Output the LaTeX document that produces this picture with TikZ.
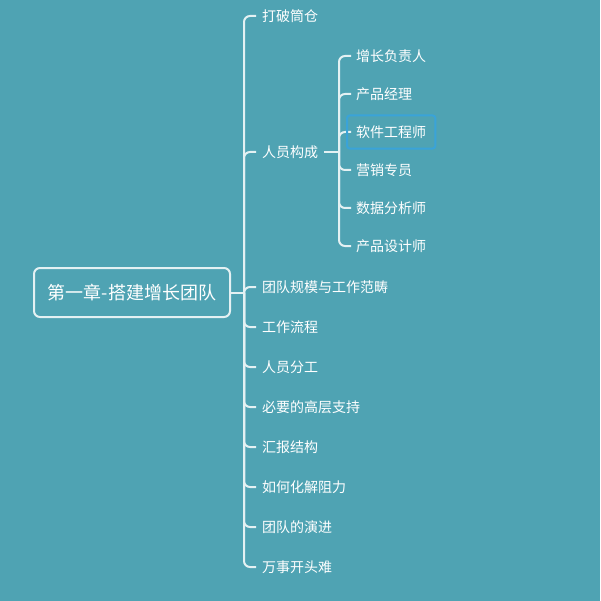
\documentclass[tikz,border=0pt]{standalone}
\usepackage{fontspec}
\setmainfont{Noto Sans CJK SC}
\usetikzlibrary{fit}
\definecolor{bgc}{HTML}{4FA3B3}
\definecolor{linec}{HTML}{E4F1F3}
\definecolor{textc}{HTML}{FFFFFF}
\definecolor{selc}{HTML}{3AA3D8}
\tikzset{
  topic/.style={anchor=west, inner sep=2pt, text=textc, font=\fontsize{14}{16}\selectfont},
  rootbox/.style={draw=linec, line width=2pt, rounded corners=6pt, text=textc,
    minimum width=196pt, minimum height=49pt, font=\fontsize{18}{20}\selectfont},
  branch/.style={linec, line width=2pt, rounded corners=6pt},
  selbox/.style={draw=selc, line width=2pt, rounded corners=3pt, inner xsep=7pt, inner ysep=8pt}
}

\begin{document}
\begin{tikzpicture}[x=1pt, y=-1pt]
  \fill[bgc] (0,0) rectangle (600,601);
  \useasboundingbox (0,0) rectangle (600,601);

  % main topic
  \node[rootbox] (root) at (132,292.5) {第一章-搭建增长团队};
  \coordinate (hub) at (244,292.5);
  \draw[branch] (root.east) -- (hub);

  % first level
  \node[topic] (silo)   at (260,16)  {打破筒仓};
  \node[topic] (staff)  at (260,152) {人员构成};
  \node[topic] (scope)  at (260,287) {团队规模与工作范畴};
  \node[topic] (flow)   at (260,327) {工作流程};
  \node[topic] (duty)   at (260,367) {人员分工};
  \node[topic] (boss)   at (260,407) {必要的高层支持};
  \node[topic] (report) at (260,447) {汇报结构};
  \node[topic] (resist) at (260,487) {如何化解阻力};
  \node[topic] (evolve) at (260,527) {团队的演进};
  \node[topic] (start)  at (260,567) {万事开头难};
  \foreach \n in {silo,staff,scope,flow,duty,boss,report,resist,evolve,start}
    \draw[branch] (hub) |- ([xshift=-4pt]\n.west);

  % second level
  \coordinate (hub2) at (339,152);
  \draw[branch] ([xshift=4pt]staff.east) -- (hub2);
  \node[topic] (lead)     at (354,56)  {增长负责人};
  \node[topic] (pm)       at (354,94)  {产品经理};
  \node[topic] (eng)      at (354,132) {软件工程师};
  \node[topic] (mkt)      at (354,170) {营销专员};
  \node[topic] (data)     at (354,208) {数据分析师};
  \node[topic] (design)   at (354,246) {产品设计师};
  \foreach \n in {lead,pm,eng,mkt,data,design}
    \draw[branch] (hub2) |- ([xshift=-3pt]\n.west);
  \node[selbox, fit=(eng)] (sel) {};
\end{tikzpicture}
\end{document}
